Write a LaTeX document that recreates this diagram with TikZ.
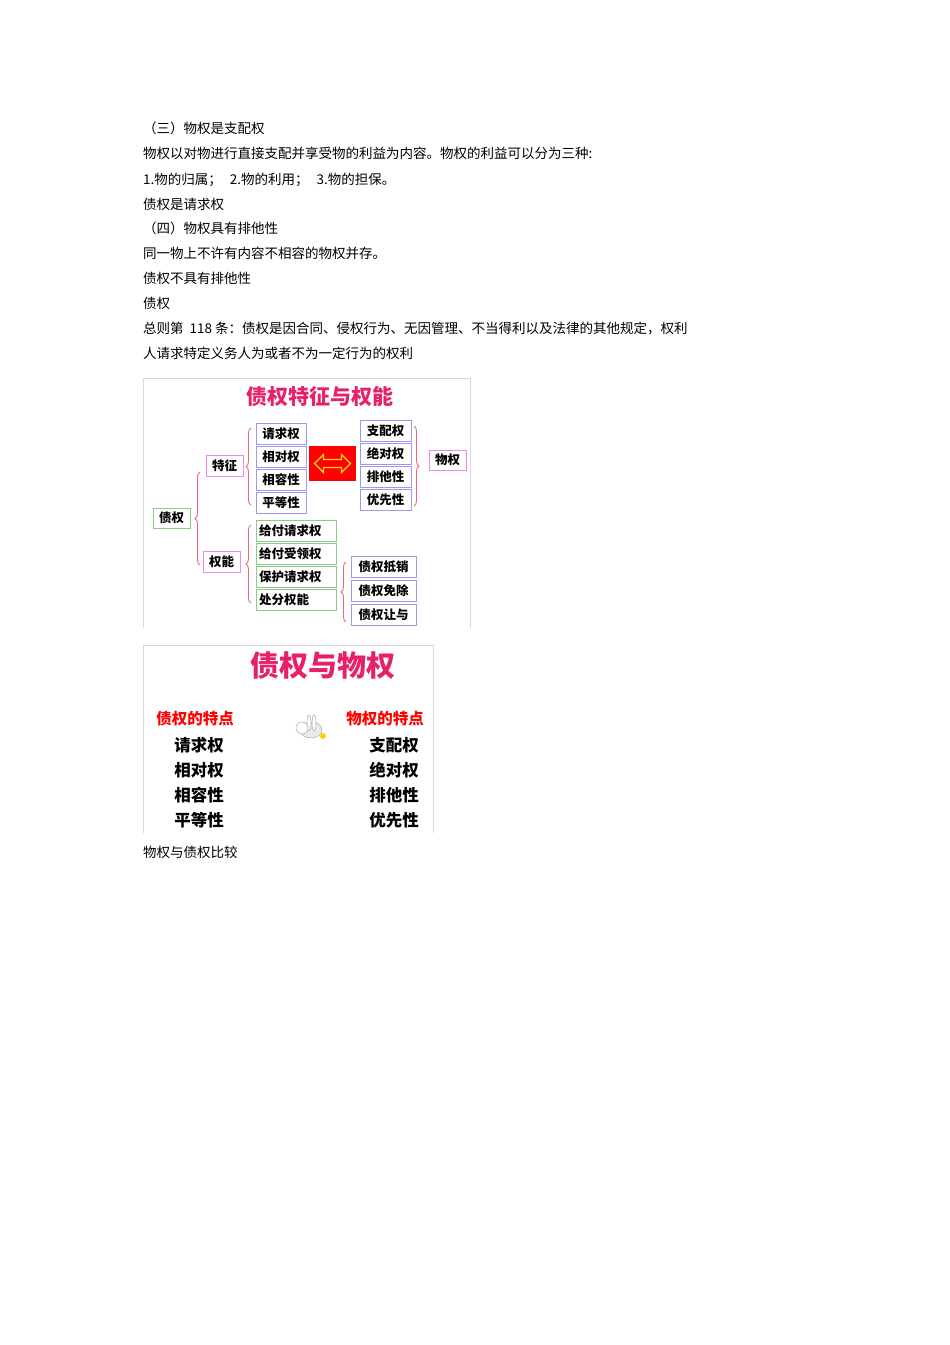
\documentclass[tikz,border=0pt]{standalone}
\usepackage{fontspec}
\setmainfont{Noto Sans CJK SC}
\newfontfamily\cjkb{Noto Sans CJK SC}[BoldFont={* Bold}]
\usetikzlibrary{decorations.pathreplacing}
\definecolor{bl}{HTML}{9A9AEE}
\definecolor{pk}{HTML}{EE88EE}
\definecolor{gr}{HTML}{88CC88}
\definecolor{br}{HTML}{E46A78}
\definecolor{mg}{HTML}{E8206A}
\begin{document}
\begin{tikzpicture}[x=1pt,y=-1pt,
  txt/.style={anchor=west,inner sep=0,font=\fontsize{13.5}{15}\selectfont},
  bx/.style={draw=#1,line width=0.8,fill=white,inner sep=0,font=\fontsize{12.5}{14}\selectfont\bfseries},
  brc/.style={draw=br,line width=0.9,decorate,decoration={brace,amplitude=5pt}},
  it/.style={font=\fontsize{16.5}{18}\selectfont\bfseries,inner sep=0}]
\useasboundingbox (0,0) rectangle (950,1345);
\fill[white] (0,0) rectangle (950,1345);
\node[txt] (l1) at (143,128) {（三）物权是支配权};
\node[txt] (l2) at (143,153) {物权以对物进行直接支配并享受物的利益为内容。物权的利益可以分为三种:};
\node[txt] (l3) at (143,180) {1.物的归属；\hspace{8pt}2.物的利用；\hspace{8pt}3.物的担保。};
\node[txt] (l4) at (143,204) {债权是请求权};
\node[txt] (l5) at (143,228) {（四）物权具有排他性};
\node[txt] (l6) at (143,253) {同一物上不许有内容不相容的物权并存。};
\node[txt] (l7) at (143,278) {债权不具有排他性};
\node[txt] (l8) at (143,303) {债权};
\node[txt] (l9) at (143,328) {总则第\hspace{6pt}118 条：债权是因合同、侵权行为、无因管理、不当得利以及法律的其他规定，权利};
\node[txt] (l10) at (143,353) {人请求特定义务人为或者不为一定行为的权利};
% diagram 1
\draw[black!15,line width=0.8] (143,628) -- (143,378) -- (470,378) -- (470,628);
\node[font=\fontsize{21}{24}\selectfont\bfseries,text=mg] (t1) at (320,397) {债权特征与权能};
\foreach \n/\t/\y in {a1/请求权/433.5,a2/相对权/456.5,a3/相容性/479.5,a4/平等性/502.5}
  \node[bx=bl,minimum width=50,minimum height=21] (\n) at (281,\y) {\t};
\foreach \n/\t/\y in {b1/支配权/430.5,b2/绝对权/453.5,b3/排他性/476.5,b4/优先性/499.5}
  \node[bx=bl,minimum width=51,minimum height=21] (\n) at (385.5,\y) {\t};
\foreach \n/\t/\y in {c1/给付请求权/530.5,c2/给付受领权/553.5,c3/保护请求权/576.5,c4/处分权能/599.5}
  \node[bx=gr,minimum width=80,minimum height=21,text width=74,align=left] (\n) at (296,\y) {\t};
\foreach \n/\t/\y in {d1/债权抵销/567,d2/债权免除/590.5,d3/债权让与/614.5}
  \node[bx=bl,minimum width=65,minimum height=21] (\n) at (383.5,\y) {\t};
\node[bx=pk,minimum width=37,minimum height=21] (tz) at (224.5,466) {特征};
\node[bx=pk,minimum width=37,minimum height=21] (qn) at (221.5,561.5) {权能};
\node[bx=pk,minimum width=37,minimum height=20] (wq) at (447.5,460) {物权};
\node[bx=gr,minimum width=37,minimum height=20] (zq) at (171.5,518) {债权};
\node[fill=red,minimum width=47,minimum height=35,inner sep=0] (rb) at (332.5,463.5) {};
\draw[yellow!85!orange,line width=1.2,line join=miter]
  (rb.center)+(-18,0) -- +(-9,-9) -- +(-9,-4) -- +(9,-4) -- +(9,-9) -- +(18,0)
  -- +(9,9) -- +(9,4) -- +(-9,4) -- +(-9,9) -- cycle;
\draw[brc] (200,565) -- (200,472);
\draw[brc] (251,505) -- (251,428);
\draw[brc] (251,603) -- (251,525);
\draw[brc] (414,426) -- (414,506);
\draw[brc] (346,622) -- (346,562);
% diagram 2
\draw[black!15,line width=0.8] (143,833) -- (143,645) -- (433,645) -- (433,833);
\node[font=\fontsize{29}{32}\selectfont\bfseries,text=mg] (t2) at (323,666) {债权与物权};
\node[font=\fontsize{15.5}{17}\selectfont\bfseries,text=red,inner sep=0] (h1) at (195,719) {债权的特点};
\node[font=\fontsize{15.5}{17}\selectfont\bfseries,text=red,inner sep=0] (h2) at (385,719) {物权的特点};
\foreach \n/\t/\y in {e1/请求权/745,e2/相对权/770,e3/相容性/795,e4/平等性/820}
  \node[it] (\n) at (199,\y) {\t};
\foreach \n/\t/\y in {f1/支配权/745,f2/绝对权/770,f3/排他性/795,f4/优先性/820}
  \node[it] (\n) at (394,\y) {\t};
% rabbit
\begin{scope}[shift={(311,727)}]
\fill[black!8] (0,3) ellipse (11 and 8);
\draw[black!35,line width=0.5] (0,3) ellipse (11 and 8);
\draw[black!35,fill=white,line width=0.5] (-2,-4) ellipse (2 and 8) (3,-4) ellipse (2 and 8);
\fill[white] (-9,1) circle (6);
\draw[black!35,line width=0.5] (-9,1) circle (6);
\fill[yellow!70!orange] (12,9) circle (3);
\end{scope}
\node[txt] (l11) at (143,852) {物权与债权比较};
\end{tikzpicture}
\end{document}
